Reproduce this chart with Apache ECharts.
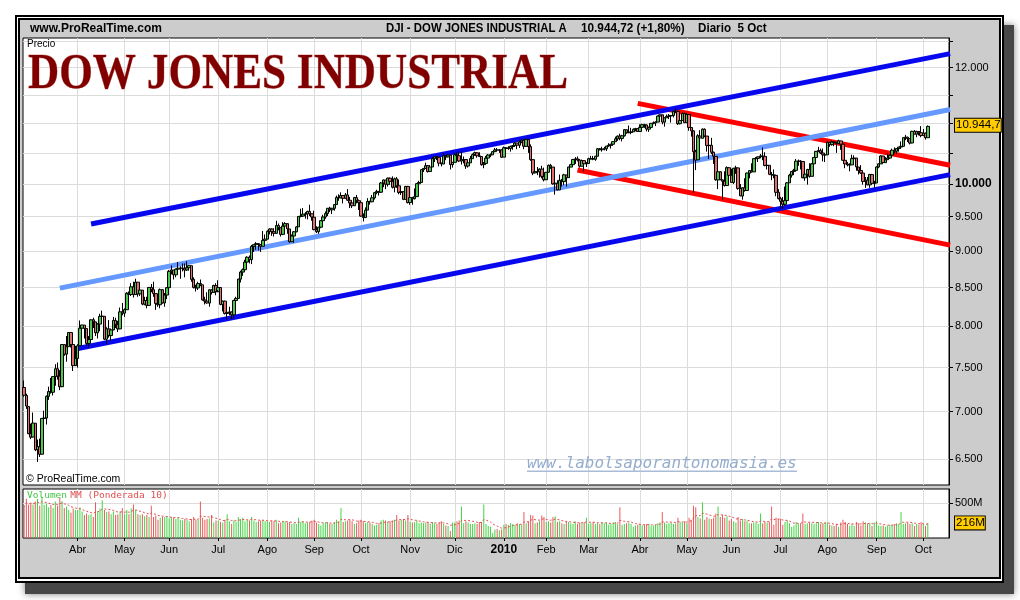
<!DOCTYPE html>
<html><head><meta charset="utf-8">
<script src="https://cdn.jsdelivr.net/npm/echarts@6/dist/echarts.min.js"></script>
<style>html,body{margin:0;padding:0;background:#fff}#c{width:1020px;height:600px}</style>
</head><body><div id="c"></div>
<script>
// ---------- categories (trading days) ----------
const firstDay = '2009-02-26';
const categoryCount = 415;
const holidays = ['2009-04-10','2009-05-25','2009-07-03','2009-09-07','2009-11-26','2009-12-25','2010-01-01','2010-01-18','2010-02-15','2010-04-02','2010-05-31','2010-07-05','2010-09-06'];
const monthNames = ['Ene','Feb','Mar','Abr','May','Jun','Jul','Ago','Sep','Oct','Nov','Dic'];

// ---------- price OHLC [open, close, low, high] by month ----------
const p_feb09 = [[7270,7182,7165,7350],[7180,7062,7030,7200]];
const p_mar09 = [[7056,6763,6756,7056],[6764,6726,6705,6870],[6727,6876,6727,6990],[6874,6594,6580,6874],[6595,6627,6470,6700],[6625,6547,6520,6710],[6548,6926,6548,6926],[6926,6930,6850,7010],[6930,7170,6860,7180],[7170,7224,7130,7280],[7224,7217,7200,7380],[7216,7395,7180,7400],[7395,7486,7290,7540],[7486,7401,7360,7560],[7400,7279,7240,7470],[7279,7776,7279,7780],[7775,7660,7640,7780],[7660,7750,7570,7880],[7750,7924,7750,7930],[7924,7776,7740,7924],[7776,7523,7460,7776],[7523,7609,7530,7760]];
const p_apr09 = [[7608,7761,7500,7780],[7762,7978,7762,8075],[7978,8018,7880,8020],[8016,7975,7850,8016],[7973,7790,7760,7975],[7789,7837,7740,7880],[7837,8083,7837,8090],[8083,8058,7980,8110],[8057,7921,7880,8060],[7920,8030,7850,8040],[8029,8126,7940,8160],[8125,8131,8030,8200],[8128,7842,7830,8128],[7841,7970,7780,7990],[7969,7886,7860,8080],[7886,7957,7820,7970],[7957,8076,7950,8120],[8075,8026,7980,8110],[8025,7969,7930,8070],[7969,8185,7969,8240],[8185,8168,8140,8300]];
const p_may09 = [[8168,8213,8120,8230],[8212,8427,8212,8440],[8426,8410,8340,8450],[8410,8512,8390,8560],[8512,8409,8370,8580],[8409,8575,8409,8620],[8574,8419,8380,8574],[8418,8469,8390,8520],[8468,8285,8270,8468],[8284,8331,8270,8380],[8331,8268,8230,8380],[8268,8504,8268,8510],[8504,8475,8440,8550],[8474,8422,8380,8580],[8422,8293,8210,8422],[8292,8277,8250,8360],[8276,8474,8230,8490],[8473,8300,8290,8480],[8300,8403,8250,8430],[8403,8500,8350,8510]];
const p_jun09 = [[8501,8721,8501,8740],[8721,8740,8680,8800],[8739,8675,8610,8739],[8674,8750,8640,8760],[8750,8764,8700,8850],[8763,8764,8620,8790],[8763,8763,8720,8830],[8763,8739,8640,8830],[8740,8770,8730,8860],[8770,8799,8730,8800],[8798,8612,8580,8798],[8612,8504,8490,8640],[8503,8497,8450,8540],[8497,8555,8470,8580],[8555,8539,8520,8610],[8539,8340,8330,8539],[8339,8323,8280,8380],[8323,8299,8290,8440],[8298,8472,8250,8480],[8471,8438,8410,8480],[8438,8529,8438,8540],[8528,8447,8400,8560]];
const p_jul09 = [[8447,8504,8470,8600],[8503,8281,8270,8503],[8280,8324,8190,8330],[8323,8163,8150,8330],[8163,8178,8090,8220],[8178,8183,8140,8250],[8183,8146,8090,8190],[8146,8332,8100,8340],[8331,8359,8290,8380],[8359,8616,8359,8620],[8615,8711,8570,8730],[8711,8743,8660,8760],[8743,8848,8743,8880],[8848,8916,8800,8930],[8915,8882,8830,8940],[8882,9069,8820,9090],[9068,9093,8990,9100],[9093,9108,9020,9130],[9108,9096,9010,9110],[9095,9070,8990,9100],[9070,9154,9070,9290],[9154,9172,9120,9240]];
const p_aug09 = [[9172,9286,9172,9300],[9285,9320,9240,9330],[9319,9280,9220,9330],[9280,9256,9210,9330],[9256,9370,9256,9440],[9369,9338,9300,9400],[9337,9241,9210,9340],[9241,9362,9230,9420],[9362,9398,9330,9420],[9397,9321,9250,9400],[9320,9135,9120,9320],[9136,9218,9136,9240],[9217,9279,9120,9290],[9279,9350,9270,9360],[9350,9505,9350,9510],[9505,9509,9490,9620],[9509,9539,9500,9630],[9538,9543,9470,9570],[9542,9580,9460,9590],[9580,9545,9510,9680],[9544,9496,9440,9545]];
const p_sep09 = [[9493,9310,9300,9590],[9310,9280,9260,9360],[9280,9345,9250,9350],[9345,9441,9330,9450],[9441,9497,9441,9530],[9497,9547,9470,9580],[9547,9627,9510,9630],[9627,9605,9570,9650],[9603,9627,9540,9630],[9626,9683,9590,9690],[9683,9792,9683,9820],[9791,9784,9740,9840],[9784,9820,9780,9870],[9820,9779,9700,9820],[9779,9830,9770,9860],[9830,9749,9740,9920],[9748,9707,9630,9800],[9707,9665,9630,9730],[9665,9790,9665,9800],[9789,9742,9700,9830],[9742,9712,9600,9760]];
const p_oct09 = [[9712,9509,9500,9712],[9507,9488,9430,9550],[9487,9599,9487,9640],[9599,9731,9599,9780],[9731,9725,9680,9740],[9725,9786,9725,9830],[9786,9865,9760,9870],[9864,9885,9840,9910],[9885,9871,9820,9890],[9871,10016,9871,10030],[10015,10063,9950,10070],[10062,9996,9920,10062],[9995,10092,9960,10100],[10092,10041,9990,10100],[10041,9949,9930,10120],[9949,10081,9870,10100],[10081,9972,9940,10110],[9972,9868,9840,10070],[9867,9882,9830,9930],[9881,9762,9750,9890],[9762,9962,9762,9970],[9962,9713,9700,9970]];
const p_nov09 = [[9713,9789,9680,9850],[9788,9772,9680,9800],[9772,9803,9760,9930],[9804,10005,9804,10010],[10004,10023,9940,10050],[10023,10227,10023,10230],[10226,10247,10190,10250],[10246,10291,10240,10340],[10290,10197,10180,10300],[10197,10270,10190,10300],[10270,10406,10270,10430],[10405,10437,10350,10440],[10436,10427,10380,10440],[10426,10332,10280,10426],[10331,10318,10280,10340],[10318,10451,10318,10500],[10450,10433,10380,10460],[10433,10464,10430,10480],[10463,10310,10230,10463],[10309,10345,10260,10350]];
const p_dec09 = [[10345,10471,10345,10500],[10470,10453,10430,10510],[10453,10366,10350,10520],[10367,10389,10310,10520],[10388,10390,10330,10440],[10390,10286,10240,10390],[10285,10338,10260,10350],[10337,10406,10337,10450],[10405,10471,10405,10490],[10471,10502,10450,10520],[10501,10452,10420,10510],[10451,10441,10430,10510],[10440,10308,10290,10440],[10308,10328,10250,10350],[10328,10414,10328,10450],[10414,10464,10400,10480],[10464,10467,10430,10490],[10467,10520,10467,10525],[10520,10548,10510,10580],[10548,10545,10530,10580],[10545,10548,10500,10560],[10548,10428,10420,10560]];
const p_jan10 = [[10430,10584,10430,10605],[10584,10573,10520,10590],[10573,10574,10550,10610],[10571,10607,10520,10620],[10606,10618,10550,10630],[10620,10663,10600,10680],[10662,10627,10560,10662],[10627,10681,10580,10700],[10680,10711,10660,10720],[10710,10610,10560,10720],[10608,10726,10600,10730],[10724,10604,10500,10724],[10603,10390,10370,10640],[10389,10173,10140,10390],[10175,10196,10170,10290],[10195,10194,10140,10270],[10194,10236,10100,10250],[10235,10120,10090,10290],[10120,10067,10040,10260]];
const p_feb10 = [[10067,10185,10067,10190],[10185,10297,10185,10310],[10296,10270,10240,10320],[10269,10002,9990,10269],[10002,10013,9835,10030],[10012,9908,9900,10060],[9908,10058,9908,10150],[10057,10038,9960,10080],[10037,10144,9980,10160],[10143,10099,9960,10143],[10100,10269,10100,10275],[10268,10309,10268,10320],[10308,10392,10300,10400],[10391,10402,10320,10430],[10402,10383,10360,10440],[10382,10283,10260,10400],[10282,10374,10282,10390],[10373,10321,10200,10373],[10321,10325,10270,10350]];
const p_mar10 = [[10326,10404,10326,10420],[10403,10406,10390,10450],[10406,10396,10380,10450],[10395,10444,10370,10450],[10444,10567,10444,10580],[10566,10552,10540,10580],[10552,10564,10520,10600],[10563,10568,10540,10600],[10567,10611,10530,10615],[10611,10625,10600,10660],[10624,10642,10570,10650],[10642,10686,10620,10690],[10685,10733,10685,10770],[10733,10779,10700,10790],[10779,10742,10710,10820],[10740,10785,10690,10800],[10785,10888,10770,10900],[10887,10836,10820,10890],[10836,10841,10830,10960],[10840,10851,10810,10920],[10851,10895,10850,10910],[10895,10907,10860,10920],[10907,10857,10850,10910]];
const p_apr10 = [[10857,10927,10860,10980],[10927,10974,10920,10990],[10973,10970,10920,10990],[10969,10898,10860,10980],[10897,10928,10850,10940],[10927,10997,10920,11000],[10997,11005,10980,11030],[11005,11019,10950,11030],[11019,11123,11019,11130],[11123,11145,11100,11150],[11144,11019,10980,11150],[11018,11093,10940,11100],[11092,11117,11090,11150],[11117,11125,11070,11160],[11124,11134,11010,11140],[11134,11205,11100,11210],[11205,11206,11180,11258],[11205,10991,10970,11210],[10990,11045,10980,11080],[11045,11168,11045,11190],[11167,11009,11000,11180]];
const p_may10 = [[11009,11151,11009,11180],[11150,10926,10870,11150],[10925,10868,10770,10930],[10868,10520,9870,10880],[10519,10380,10220,10550],[10386,10785,10386,10810],[10780,10749,10640,10880],[10742,10897,10742,10910],[10896,10782,10760,10910],[10780,10620,10520,10780],[10620,10625,10400,10660],[10625,10510,10480,10750],[10510,10444,10320,10520],[10442,10068,10050,10442],[10063,10193,9920,10210],[10193,10067,10060,10200],[10064,10043,9760,10070],[10044,9975,9960,10200],[9976,10259,9976,10280],[10258,10137,10090,10260]];
const p_jun10 = [[10136,10025,10020,10240],[10024,10250,10000,10255],[10249,10255,10160,10290],[10255,9931,9910,10255],[9931,9816,9810,10000],[9813,9940,9757,9950],[9940,9899,9880,10090],[9899,10173,9899,10180],[10170,10212,10090,10215],[10211,10191,10180,10330],[10191,10405,10191,10410],[10404,10409,10350,10430],[10409,10434,10350,10440],[10435,10450,10410,10480],[10449,10442,10380,10590],[10442,10294,10280,10510],[10293,10298,10230,10360],[10297,10153,10140,10297],[10152,10144,10060,10190],[10143,10138,10090,10230],[10136,9870,9810,10136],[9870,9774,9760,9920]];
const p_jul10 = [[9773,9732,9615,9800],[9732,9686,9620,9800],[9686,9744,9660,9960],[9743,10018,9710,10030],[10018,10139,10018,10160],[10138,10198,10100,10200],[10198,10216,10140,10240],[10216,10364,10216,10400],[10363,10367,10290,10390],[10366,10360,10230,10380],[10359,10098,10090,10359],[10097,10155,10050,10165],[10154,10230,9990,10240],[10229,10120,10100,10330],[10121,10322,10121,10330],[10321,10425,10260,10430],[10424,10525,10424,10530],[10525,10538,10510,10600],[10537,10498,10480,10570],[10497,10468,10360,10570],[10466,10466,10350,10480]];
const p_aug10 = [[10468,10675,10468,10690],[10674,10637,10600,10680],[10636,10680,10620,10710],[10679,10675,10610,10690],[10674,10654,10500,10670],[10653,10699,10650,10720],[10698,10644,10550,10700],[10643,10379,10370,10643],[10378,10320,10250,10380],[10319,10303,10280,10350],[10302,10302,10200,10330],[10303,10406,10303,10470],[10405,10416,10350,10460],[10415,10271,10210,10415],[10270,10214,10150,10270],[10213,10174,10160,10300],[10173,10040,9990,10173],[10040,10060,9940,10110],[10060,9986,9980,10110],[9986,10150,9940,10160],[10149,10010,10000,10160],[10009,10015,9940,10050]];
const p_sep10 = [[10016,10270,10016,10280],[10270,10320,10250,10330],[10320,10448,10320,10460],[10447,10341,10330,10447],[10340,10387,10340,10430],[10388,10415,10390,10490],[10415,10462,10400,10470],[10463,10544,10463,10570],[10544,10526,10490,10590],[10526,10572,10480,10580],[10571,10595,10520,10600],[10595,10608,10570,10690],[10608,10753,10608,10760],[10753,10761,10710,10800],[10761,10739,10680,10770],[10738,10662,10640,10740],[10664,10860,10664,10870],[10860,10812,10810,10880],[10811,10858,10760,10870],[10857,10835,10790,10860],[10836,10788,10760,10950]];
const p_oct10 = [[10789,10830,10780,10900],[10828,10752,10720,10840],[10752,10944.72,10752,10960]];

// ---------- volume (millions) by month ----------
const v_feb09 = [440,560];
const v_mar09 = [480,500,480,520,560,460,590,470,490,440,470,430,520,460,570,530,430,450,400,360,420,400];
const v_apr09 = [400,440,380,330,350,330,340,300,510,380,420,540,400,370,380,340,380,330,340,380,430];
const v_may09 = [340,400,340,420,480,400,340,330,340,310,330,300,460,300,320,260,290,300,300,310];
const v_jun09 = [280,300,290,270,300,260,250,270,260,240,270,300,260,260,520,290,260,270,280,330,220,250];
const v_jul09 = [250,230,220,260,340,240,200,250,230,300,270,290,240,260,250,300,250,230,240,250,260,240];
const v_aug09 = [240,230,250,240,260,210,220,230,240,220,230,200,210,200,290,230,240,210,220,230,250];
const v_sep09 = [260,220,200,180,210,220,230,200,200,230,260,240,430,230,240,250,260,240,200,210,250];
const v_oct09 = [260,240,210,230,220,200,180,190,210,250,260,250,230,240,250,260,330,250,260,270,250,330];
const v_nov09 = [230,220,230,250,210,220,210,220,230,200,230,210,200,220,240,200,180,170,100,220];
const v_dec09 = [220,240,250,450,210,240,220,200,200,210,200,230,230,480,200,170,160,70,120,130,110,120];
const v_jan10 = [190,200,190,210,200,190,210,200,190,370,210,240,330,320,210,220,240,320,300];
const v_feb10 = [230,240,220,300,310,230,240,210,200,240,230,210,200,240,200,220,210,230,290];
const v_mar10 = [200,210,230,200,210,200,230,210,220,190,200,220,230,200,440,190,200,210,220,200,160,180,190];
const v_apr10 = [200,180,190,200,200,170,180,190,210,220,370,220,200,210,220,200,210,290,230,220,240];
const v_may10 = [210,290,260,460,440,300,280,510,260,300,280,270,290,350,450,300,330,290,310,250];
const v_jun10 = [270,240,220,300,250,270,240,250,210,210,220,220,200,350,210,230,220,230,450,190,290,270];
const v_jul10 = [270,190,230,250,210,160,180,230,200,210,350,200,210,220,210,200,220,230,200,210,220];
const v_aug10 = [220,190,180,170,200,160,220,260,230,200,170,200,170,230,210,180,240,220,200,210,170,220];
const v_sep10 = [240,180,170,180,160,170,190,190,200,210,200,370,200,210,220,200,210,170,200,190,230];
const v_oct10 = [200,170,216];

// ---------- axis ticks ----------
const priceLabelValues = [6500,7000,7500,8000,8500,9000,9500,10000,12000];
const priceTickValues = [6500,7000,7500,8000,8500,9000,9500,10000,10500,11000,11500,12000,12500];
const priceMin = 6240, priceMax = 12570;
const volumeLabelValues = [500];
const lastPrice = 10944.72, lastVolume = 216;

// ---------- trend lines [categoryIndex, price] ----------
const trendUpperBlue = [[30, 9392],[415, 12266]];
const trendMidBlue   = [[16, 8494],[415, 11237]];
const trendLowerBlue = [[23, 7722],[415, 10148]];
const trendUpperRed  = [[275, 11346],[415, 10297]];
const trendLowerRed  = [[248, 10222],[415, 9087]];

// ---------- build ----------
const ohlc = [].concat(p_feb09,p_mar09,p_apr09,p_may09,p_jun09,p_jul09,p_aug09,p_sep09,p_oct09,p_nov09,p_dec09,p_jan10,p_feb10,p_mar10,p_apr10,p_may10,p_jun10,p_jul10,p_aug10,p_sep10,p_oct10);
const volume = [].concat(v_feb09,v_mar09,v_apr09,v_may09,v_jun09,v_jul09,v_aug09,v_sep09,v_oct09,v_nov09,v_dec09,v_jan10,v_feb10,v_mar10,v_apr10,v_may10,v_jun10,v_jul10,v_aug10,v_sep10,v_oct10);

const dates = [];
{
  const hs = new Set(holidays);
  let d = new Date(firstDay + 'T00:00:00Z');
  while (dates.length < categoryCount) {
    const wd = d.getUTCDay();
    const s = d.toISOString().slice(0,10);
    if (wd !== 0 && wd !== 6 && !hs.has(s)) dates.push(s);
    d = new Date(d.getTime() + 86400000);
  }
}
const monthStart = dates.map((s,i) => i > 0 && s.slice(0,7) !== dates[i-1].slice(0,7) && s >= '2009-04-01');
const L = Math.log10;
const candleData = ohlc.map(r => r.map(L));
const volData = volume.map((v,i) => ({value: v, itemStyle: {color: ohlc[i][1] >= ohlc[i][0] ? '#44d444' : '#e85a5a'}}));
// weighted moving average (10) of volume, as the indicator in the panel
const wma = volume.map((v,i) => {
  let s = 0, w = 0;
  for (let k = 0; k < 10 && i-k >= 0; k++) { s += (10-k)*volume[i-k]; w += (10-k); }
  return +(s/w).toFixed(1);
});
function fmt(n){ return String(n).replace(/\B(?=(\d{3})+(?!\d))/g,'.'); }
const trend = (pts) => pts.map(p => [p[0], L(p[1])]);

const FONT = 'Liberation Sans, Arial, sans-serif';
const lastPriceText = fmt(Math.floor(lastPrice)) + ',' + String(Math.floor((lastPrice % 1) * 10));

const chart = echarts.init(document.getElementById('c'), null, {renderer:'canvas'});
const xCommon = {
  type:'category', data: dates, boundaryGap: true,
  axisLine:{show:false}, axisTick:{show:false}, axisLabel:{show:false},
  splitLine:{show:true, alignWithLabel:true, interval:(i)=>monthStart[i], lineStyle:{color:'#dcdcdc', width:1}}
};
const hiddenLine = {color:'rgba(0,0,0,0)', width:0};
chart.setOption({
  animation:false,
  backgroundColor:'#ffffff',
  textStyle:{fontFamily: FONT},
  graphic:[
    {type:'rect', z:-10, shape:{x:25,y:25,width:989,height:569}, style:{fill:'#474747', shadowBlur:7, shadowColor:'rgba(0,0,0,0.5)'}},
    {type:'rect', z:-9, shape:{x:15,y:15,width:989,height:568}, style:{fill:'#000'}},
    {type:'rect', z:-9, shape:{x:17,y:17,width:985,height:564}, style:{fill:'#fff'}},
    {type:'rect', z:-9, shape:{x:18,y:18,width:983,height:561}, style:{fill:'#000'}},
    {type:'rect', z:-9, shape:{x:20,y:20,width:979,height:557}, style:{fill:'#cccccc'}},
    {type:'text', z:50, x:30, y:29, style:{text:'www.ProRealTime.com', font:'bold 12px '+FONT, fill:'#000', verticalAlign:'middle'}},
    {type:'text', z:50, x:386, y:29, scaleX:0.948, style:{text:'DJI - DOW JONES INDUSTRIAL A', font:'bold 12px '+FONT, fill:'#000', verticalAlign:'middle'}},
    {type:'text', z:50, x:581, y:29, scaleX:0.98, style:{text:'10.944,72 (+1,80%)', font:'bold 12px '+FONT, fill:'#000', verticalAlign:'middle'}},
    {type:'text', z:50, x:698, y:29, scaleX:0.97, style:{text:'Diario  5 Oct', font:'bold 12px '+FONT, fill:'#000', verticalAlign:'middle'}},
    {type:'text', z:50, x:27, y:44.5, style:{text:'Precio', font:'10px '+FONT, fill:'#000', verticalAlign:'middle'}},
    {type:'text', z:50, x:28, y:75, scaleX:0.864, style:{text:'DOW JONES INDUSTRIAL', font:'bold 50px "Liberation Serif", serif', fill:'#800000', stroke:'#d9a0a0', lineWidth:0.8, verticalAlign:'middle'}},
    {type:'text', z:50, x:26, y:479, style:{text:'© ProRealTime.com', font:'10.5px '+FONT, fill:'#000', verticalAlign:'middle'}},
    {type:'text', z:50, x:527, y:464, style:{text:'www.labolsaporantonomasia.es', font:'italic 16px "DejaVu Sans Mono", monospace', fill:'#94acce', verticalAlign:'middle'}},
    {type:'rect', z:50, shape:{x:527,y:470.5,width:270,height:1.6}, style:{fill:'#a8bcd8'}},
    {type:'text', z:50, x:27, y:496, style:{text:'{g|Volumen} {r|MM (Ponderada 10)}', rich:{g:{fill:'#44c444', font:'9.5px "DejaVu Sans Mono", monospace'}, r:{fill:'#e05050', font:'9.5px "DejaVu Sans Mono", monospace'}}, verticalAlign:'middle'}}
  ],
  grid:[
    {left:23, top:38, width:926, height:447, show:true, backgroundColor:'#fff', borderColor:'#000', borderWidth:1},
    {left:23, top:489, width:926, height:49, show:true, backgroundColor:'#fff', borderColor:'#000', borderWidth:1}
  ],
  xAxis:[
    Object.assign({gridIndex:0}, xCommon),
    Object.assign({}, xCommon, {gridIndex:1,
      axisTick:{show:true, alignWithLabel:true, interval:(i)=>monthStart[i], length:3, lineStyle:{color:'#000'}},
      axisLabel:{show:true, interval:(i)=>monthStart[i], margin:6, color:'#000', fontSize:11,
        formatter:(v)=>{const m=+v.slice(5,7); return m===1 ? '{b|'+v.slice(0,4)+'}' : monthNames[m-1];},
        rich:{b:{fontWeight:'bold', fontSize:12, color:'#000'}}}
    })
  ],
  yAxis:[
    {type:'value', gridIndex:0, position:'right', min:L(priceMin), max:L(priceMax), scale:true,
      axisLine:{show:true, lineStyle:{color:'#000'}},
      axisTick:{show:true, length:4, customValues: priceTickValues.map(L), lineStyle:{color:'#000'}},
      axisLabel:{show:true, margin:6, color:'#000', fontSize:11, customValues: priceLabelValues.map(L),
        formatter:(v)=>{const n=Math.round(Math.pow(10,v)/100)*100; const s=fmt(n); return n===10000 ? '{b|'+s+'}' : s;},
        rich:{b:{fontWeight:'bold', fontSize:12, color:'#000'}}},
      splitLine:{show:true, lineStyle:{color:'#dcdcdc'}}
    },
    {type:'value', gridIndex:1, position:'right', min:0, max:700,
      axisLine:{show:true, lineStyle:{color:'#000'}},
      axisTick:{show:true, length:4, customValues: volumeLabelValues, lineStyle:{color:'#000'}},
      axisLabel:{show:true, margin:6, color:'#000', fontSize:11, customValues: volumeLabelValues, formatter:(v)=>v+'M'},
      splitLine:{show:true, lineStyle:{color:'#dcdcdc'}}
    }
  ],
  series:[
    {type:'line', xAxisIndex:0, yAxisIndex:0, z:1, symbol:'none', data:trend(trendLowerRed), lineStyle:{color:'#ff0000', width:5, cap:'butt'}},
    {type:'line', xAxisIndex:0, yAxisIndex:0, z:1, symbol:'none', data:trend(trendUpperRed), lineStyle:{color:'#ff0000', width:5, cap:'butt'}},
    {type:'line', xAxisIndex:0, yAxisIndex:0, z:1, symbol:'none', data:trend(trendMidBlue), lineStyle:{color:'#6699ff', width:5, cap:'butt'}},
    {type:'line', xAxisIndex:0, yAxisIndex:0, z:1, symbol:'none', data:trend(trendLowerBlue), lineStyle:{color:'#0808ee', width:5, cap:'butt'}},
    {type:'line', xAxisIndex:0, yAxisIndex:0, z:1, symbol:'none', data:trend(trendUpperBlue), lineStyle:{color:'#0808ee', width:5, cap:'butt'}},
    {type:'candlestick', xAxisIndex:0, yAxisIndex:0, z:3, barWidth:3, data:candleData,
      itemStyle:{color:'#4cc94c', color0:'#e07070', borderColor:'#000', borderColor0:'#000', borderWidth:1},
      markLine:{silent:true, symbol:'none', animation:false,
        lineStyle: hiddenLine,
        label:{show:true, position:'end', distance:6, formatter: lastPriceText, backgroundColor:'#ffcc00', borderColor:'#000', borderWidth:1, padding:[1,0,0,1], color:'#000', fontSize:11.5, opacity:1},
        emphasis:{disabled:true},
        data:[{yAxis: L(lastPrice)}]}
    },
    {type:'bar', xAxisIndex:1, yAxisIndex:1, barWidth:1, data:volData, z:2,
      markLine:{silent:true, symbol:'none', animation:false, lineStyle: hiddenLine,
        label:{show:true, position:'end', distance:6, formatter: lastVolume+'M', backgroundColor:'#ffcc00', borderColor:'#000', borderWidth:1, padding:[1,0,0,1], color:'#000', fontSize:11.5, opacity:1},
        emphasis:{disabled:true},
        data:[{yAxis:lastVolume}]}
    },
    {type:'line', xAxisIndex:1, yAxisIndex:1, z:3, symbol:'none', data:wma, lineStyle:{color:'#e05050', width:1, type:[2,2]}}
  ]
});
</script>
</body></html>
